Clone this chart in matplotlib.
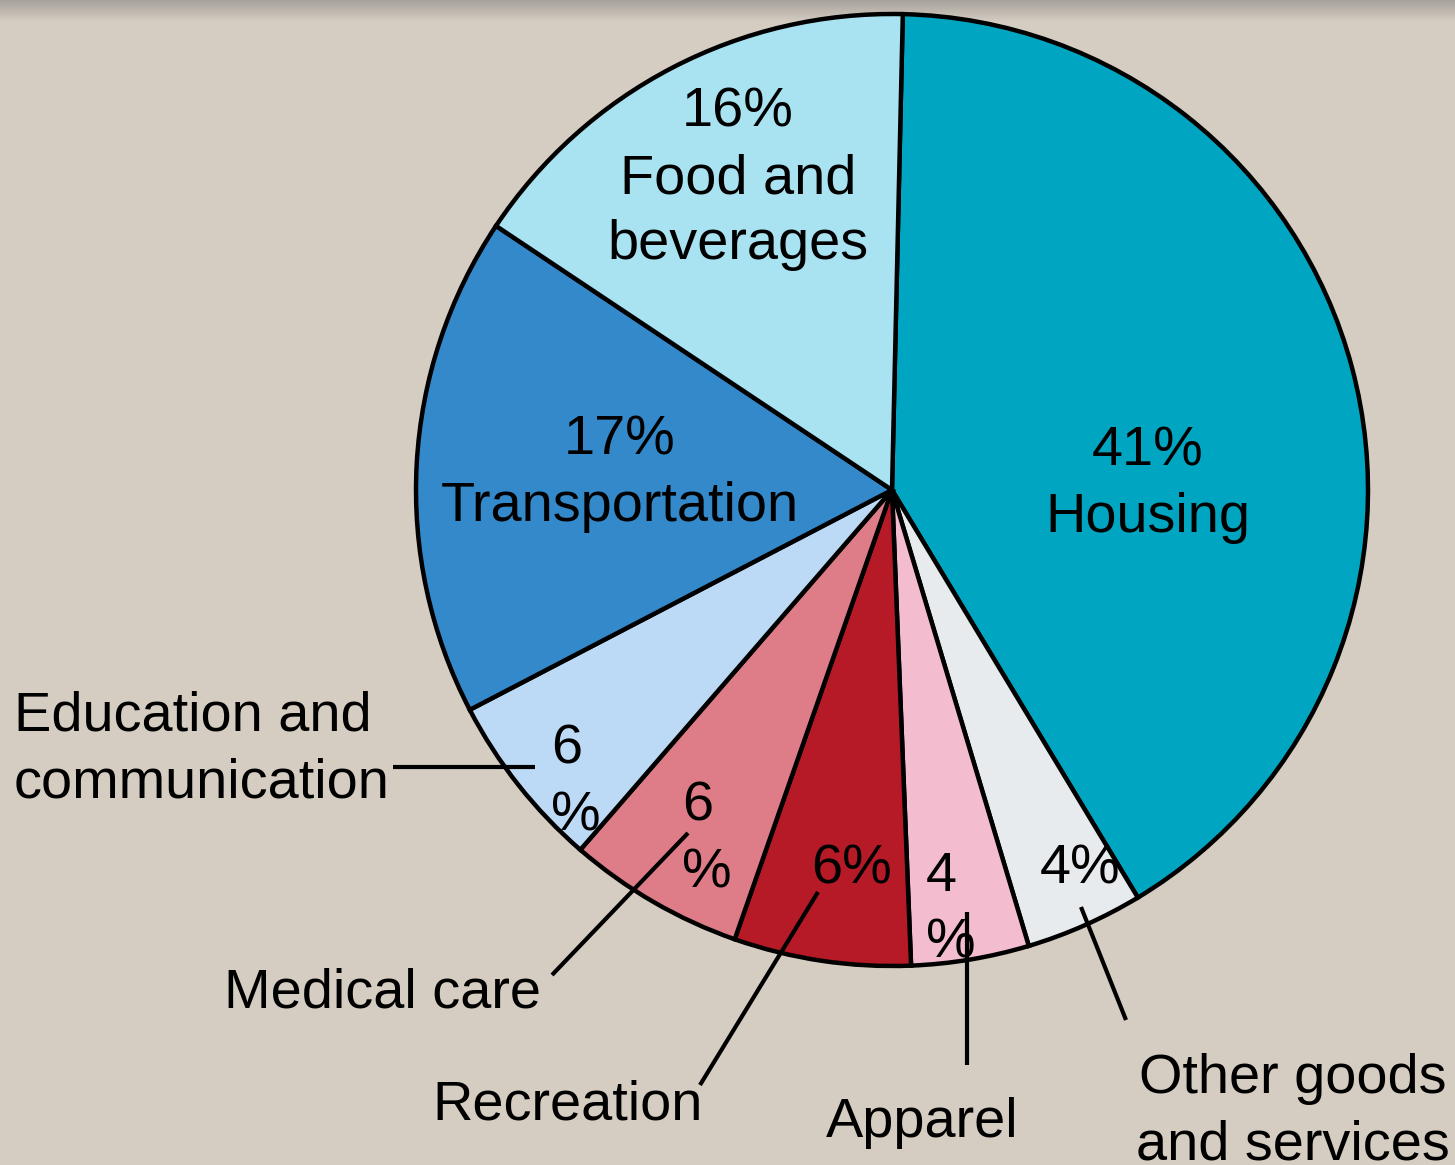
import matplotlib
matplotlib.use("Agg")
import matplotlib.pyplot as plt
import numpy as np
from matplotlib.colors import LinearSegmentedColormap

# ---- data ----
categories = ["Housing", "Other goods and services", "Apparel", "Recreation",
              "Medical care", "Education and communication", "Transportation",
              "Food and beverages"]
shares = [41, 4, 4, 6, 6, 6, 17, 16]
colors = ["#00A6C1", "#E7EBEE", "#F3BCCF", "#B51A26", "#DE7C88", "#BCD9F5",
          "#3489CB", "#A9E3F2"]
inside_labels = ["41%\nHousing", "4%", "4\n%", "6%", "6\n%", "6\n%",
                 "17%\nTransportation", "16%\nFood and\nbeverages"]
outside_labels = ["Other goods\nand services", "Apparel", "Recreation",
                  "Medical care", "Education and\ncommunication"]

BG = "#D5CDC2"
W, H = 1455, 1165
FS = 40.2
LS = 1.36
plt.rcParams['font.family'] = ['Liberation Sans', 'DejaVu Sans']

fig = plt.figure(figsize=(W / 100, H / 100), dpi=100)
fig.patch.set_facecolor(BG)
ax = fig.add_axes([0, 0, 1, 1])
ax.set_facecolor(BG)

def Y(py):
    return H - py

cx, cy, r = 892, Y(490), 476
ax.pie(shares, colors=colors, startangle=88.7, counterclock=False,
       center=(cx, cy), radius=r,
       wedgeprops=dict(edgecolor="black", linewidth=3.2))

ax.set_xlim(0, W)
ax.set_ylim(0, H)
ax.set_aspect("auto")
ax.axis("off")

# top shadow gradient
cmap = LinearSegmentedColormap.from_list("sh", ["#A7A29C", BG])
grad = np.linspace(0, 1, 50).reshape(-1, 1)
ax.imshow(grad, cmap=cmap, extent=(0, W, H - 22, H), aspect="auto",
          origin="upper", zorder=0.5)

# inside labels: (x, y, ha)
inside_pos = [(1148, 485, "center"), (1080, 870, "center"), (926, 910, "left"),
              (852, 869, "center"), (682, 840, "left"), (551, 783, "left"),
              (620, 474, "center"), (738, 179, "center")]
for lab, (x, y, ha) in zip(inside_labels, inside_pos):
    ax.text(x, Y(y), lab, ha=ha, va="center", fontsize=FS, color="black",
            multialignment="center" if ha == "center" else "left",
            linespacing=LS, zorder=5)

# outside labels
outside_pos = [(1293, 1112, "center"), (922, 1123, "center"),
               (568, 1105, "center"), (383, 993, "center"),
               (14, 750, "left")]
for lab, (x, y, ha) in zip(outside_labels, outside_pos):
    ax.text(x, Y(y), lab, ha=ha, va="center", fontsize=FS, color="black",
            multialignment="left" if ha == "left" else "center",
            linespacing=LS, zorder=5)

# leader lines
leaders = [((1126, 1020), (1081, 907)), ((967, 1065), (967, 912)),
           ((700, 1085), (818, 892)), ((552, 975), (688, 833)),
           ((393, 767), (535, 767))]
for (x0, y0), (x1, y1) in leaders:
    ax.plot([x0, x1], [Y(y0), Y(y1)], color="black", lw=3.0,
            solid_capstyle="butt", zorder=6)

fig.savefig("out.png", dpi=100, facecolor=BG)
